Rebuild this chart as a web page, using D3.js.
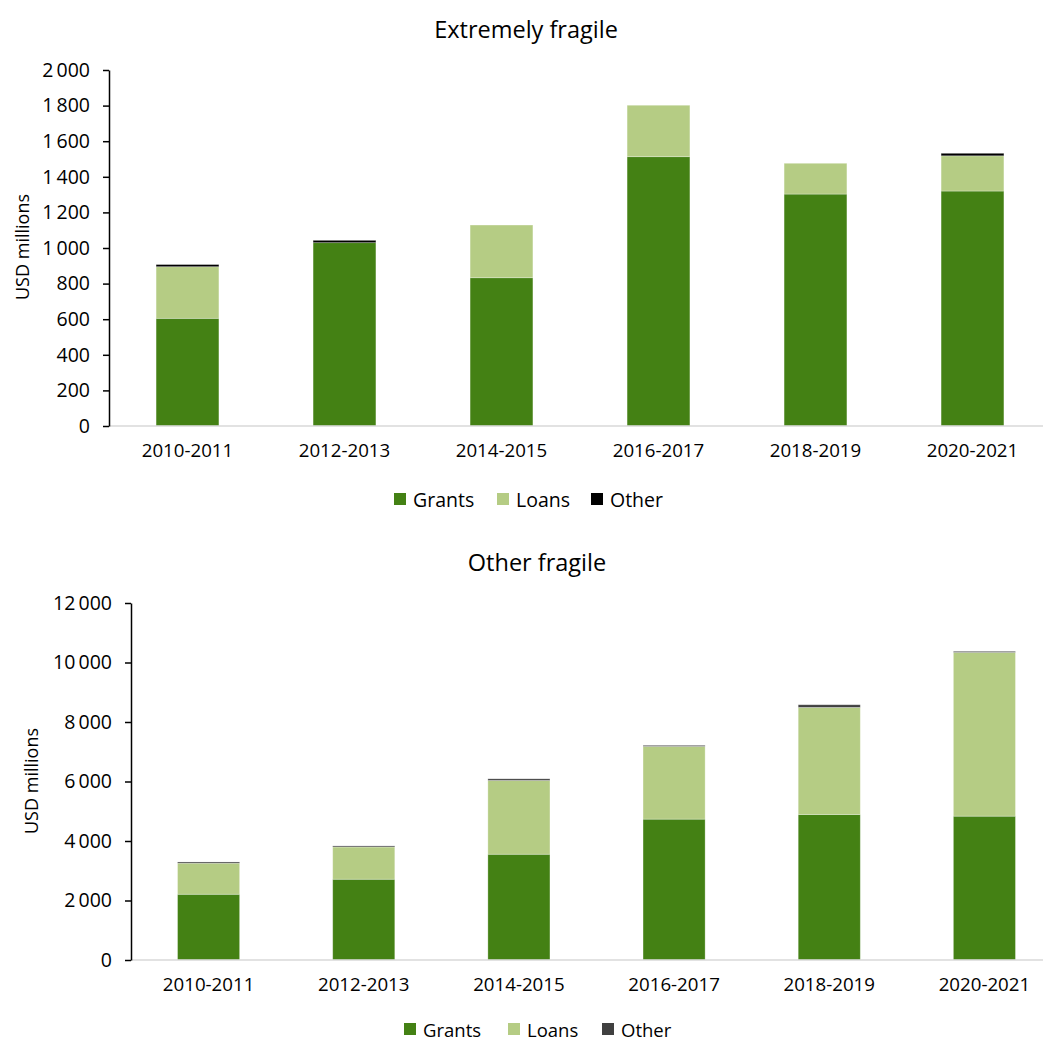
<!DOCTYPE html>
<html>
<head>
<meta charset="utf-8">
<script src="https://cdn.jsdelivr.net/npm/d3@7"></script>
<style>
  html, body { margin: 0; padding: 0; background: #ffffff; }
  svg { display: block; font-family: "Open Sans", "Noto Sans", sans-serif; }
</style>
</head>
<body>
<svg id="chart" width="1043" height="1042"></svg>
<script>
// Periods shown on both panels
const periods = ["2010-2011", "2012-2013", "2014-2015", "2016-2017", "2018-2019", "2020-2021"];
const seriesNames = ["Grants", "Loans", "Other"];

// Extremely fragile contexts, USD millions
const extremeGrants = [605, 1030, 833, 1513, 1303, 1320];
const extremeLoans  = [290, 0, 296, 289, 173, 198];
const extremeOther  = [12, 13, 0, 0, 0, 14];
const extremeTicks  = [0, 200, 400, 600, 800, 1000, 1200, 1400, 1600, 1800, 2000];

// Other fragile contexts, USD millions
const otherGrants = [2210, 2715, 3555, 4735, 4890, 4835];
const otherLoans  = [1045, 1085, 2480, 2445, 3600, 5505];
const otherOther  = [40, 35, 55, 35, 90, 35];
const otherTicks  = [0, 2000, 4000, 6000, 8000, 10000, 12000];

const svg = d3.select("#chart");

// thousands separated by a space, e.g. "10 000"
const fmt = v => d3.format(",")(v).replace(/,/g, "\u2009");

function drawPanel(cfg) {
  const rows = periods.map((p, i) => ({
    period: p,
    Grants: cfg.grants[i],
    Loans: cfg.loans[i],
    Other: cfg.other[i]
  }));
  const stacked = d3.stack().keys(seriesNames)(rows);

  const x = d3.scaleBand().domain(periods).range([cfg.left, cfg.right]).paddingInner(0.6).paddingOuter(0.3);
  const y = d3.scaleLinear().domain([0, d3.max(cfg.ticks)]).range([cfg.bottom, cfg.top]);

  const g = svg.append("g");

  // title
  g.append("text")
    .attr("x", cfg.titleX).attr("y", cfg.titleY)
    .attr("text-anchor", "middle").attr("dominant-baseline", "central")
    .style("font-size", "23.5px").style("fill", "#000")
    .text(cfg.title);

  // stacked bars
  const colors = { Grants: "#448114", Loans: "#b5cc84", Other: cfg.otherColor };
  g.selectAll("g.series").data(stacked).join("g")
    .attr("class", "series")
    .attr("fill", d => colors[d.key])
    .selectAll("rect").data(d => d.filter(s => s[1] - s[0] > 0)).join("rect")
    .attr("x", d => x(d.data.period))
    .attr("width", x.bandwidth())
    .attr("y", d => y(d[1]))
    .attr("height", d => y(d[0]) - y(d[1]))
    .attr("stroke", "#ffffff").attr("stroke-opacity", 0.35).attr("stroke-width", 0.8);

  // category axis (light grey baseline)
  const xAxis = g.append("g")
    .attr("transform", `translate(0,${cfg.bottom})`)
    .call(d3.axisBottom(x).tickSize(0).tickPadding(cfg.xPad));
  xAxis.select(".domain").attr("stroke", "#d9d9d9").attr("stroke-width", 1.5)
    .attr("d", `M${cfg.left},0H1043`);
  xAxis.selectAll("text").style("font-size", "18.7px").style("fill", "#000")
    .style("font-family", "\"Open Sans\", sans-serif");

  // value axis
  const yAxis = g.append("g")
    .attr("transform", `translate(${cfg.left},0)`)
    .call(d3.axisLeft(y).tickValues(cfg.ticks).tickSize(6).tickSizeOuter(0).tickPadding(13).tickFormat(fmt));
  yAxis.select(".domain").attr("stroke", "#000").attr("stroke-width", 1.5);
  yAxis.selectAll(".tick line").attr("stroke", "#000").attr("stroke-width", 1.5);
  yAxis.selectAll("text").style("font-size", "19.5px").style("fill", "#000")
    .style("font-family", "\"Open Sans\", sans-serif");

  // value axis title
  g.append("text")
    .attr("transform", `translate(${cfg.yLabelX},${cfg.yLabelY}) rotate(-90)`)
    .attr("text-anchor", "middle").attr("dominant-baseline", "central")
    .style("font-size", "18px").style("fill", "#000")
    .text("USD millions");

  // legend
  const legend = g.append("g").attr("transform", `translate(0,${cfg.legendY})`);
  seriesNames.forEach((name, i) => {
    const lx = cfg.legendX[i];
    legend.append("rect")
      .attr("x", lx).attr("y", -6).attr("width", 12).attr("height", 12)
      .attr("fill", colors[name]);
    legend.append("text")
      .attr("x", lx + 19).attr("y", 0)
      .attr("dominant-baseline", "central")
      .style("font-size", cfg.legendSize).style("fill", "#000")
      .text(name);
  });
}

drawPanel({
  title: "Extremely fragile", titleX: 526, titleY: 29,
  grants: extremeGrants, loans: extremeLoans, other: extremeOther, ticks: extremeTicks,
  otherColor: "#000000",
  left: 109, right: 1051, top: 70, bottom: 426, xPad: 18,
  yLabelX: 22, yLabelY: 247,
  legendY: 499, legendX: [394, 497, 591], legendSize: "19.5px"
});

drawPanel({
  title: "Other fragile", titleX: 537, titleY: 562,
  grants: otherGrants, loans: otherLoans, other: otherOther, ticks: otherTicks,
  otherColor: "#404040",
  left: 131, right: 1062, top: 603, bottom: 960, xPad: 18,
  yLabelX: 31, yLabelY: 781,
  legendY: 1029, legendX: [404, 508, 602], legendSize: "18.5px"
});
</script>
</body>
</html>
